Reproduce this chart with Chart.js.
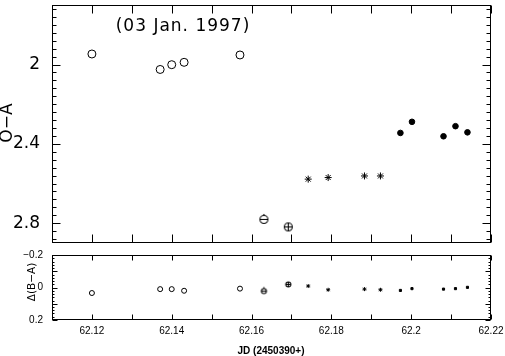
<!DOCTYPE html>
<html>
<head>
<meta charset="utf-8">
<script src="https://cdn.jsdelivr.net/npm/chart.js@4.4.1/dist/chart.umd.min.js"></script>
<style>
html,body{margin:0;padding:0;background:#fff;}
#wrap{position:relative;width:505px;height:356px;overflow:hidden;background:#fff;}
#caixaTopo{position:absolute;left:0;top:0;width:505px;height:248px;}
#caixaBase{position:absolute;left:0;top:250px;width:505px;height:106px;}
</style>
</head>
<body>
<div id="wrap">
    <div id="caixaTopo"><canvas id="graficoOA" width="505" height="248"></canvas></div>
    <div id="caixaBase"><canvas id="graficoDelta" width="505" height="106"></canvas></div>
</div>
<script>
// ==========================================================
// Dados (JD - 2450390, O-A e delta(B-A))
// ==========================================================

// circulos abertos
const jdAberto = [62.1200, 62.1371, 62.1400, 62.1431, 62.1571];
const oaAberto = [1.947, 2.025, 2.001, 1.989, 1.952];
const deltaAberto = [0.034, 0.010, 0.010, 0.020, 0.007];

// circulo com traco
const jdMenos = [62.1631];
const oaMenos = [2.781];
const deltaMenos = [0.022];

// circulo com cruz
const jdMais = [62.1692];
const oaMais = [2.819];
const deltaMais = [-0.019];

// asteriscos
const jdEstrela = [62.1742, 62.1792, 62.1883, 62.1923];
const oaEstrela = [2.578, 2.570, 2.562, 2.562];
const deltaEstrela = [-0.009, 0.014, 0.010, 0.014];

// pontos cheios
const jdCheio = [62.1973, 62.2002, 62.2081, 62.2111, 62.2141];
const oaCheio = [2.345, 2.289, 2.362, 2.311, 2.342];
const deltaCheio = [0.018, 0.007, 0.010, 0.007, -0.001];

// rotulos dos eixos
const xTicksJD = [62.12, 62.14, 62.16, 62.18, 62.20, 62.22];
const xRotulosJD = ["62.12", "62.14", "62.16", "62.18", "62.2", "62.22"];
const yTicksOA = [2.0, 2.4, 2.8];
const yRotulosOA = ["2", "2.4", "2.8"];
const yTicksDelta = [-0.2, 0, 0.2];
const yRotulosDelta = ["\u22120.2", "0", "0.2"];

// ==========================================================
// Marcas dos eixos (para dentro)
// ==========================================================

const marcasX = [];
for(let k = 6211; k <= 6222; k++) marcasX.push(k / 100);

const marcasOAmenor = [];
for(let k = 43; k <= 72; k++) marcasOAmenor.push(k * 0.04);

const marcasDeltaMenor = [];
for(let k = -10; k <= 10; k++) marcasDeltaMenor.push(k * 0.02);

// ==========================================================
// Marcadores especiais (circulo com traco / com cruz)
// ==========================================================

function criarMarcador(r, tipo){
    const c = document.createElement("canvas");
    const s = 2 * Math.ceil(r) + 5;
    c.width = s;
    c.height = s;
    const g = c.getContext("2d");
    const m = s / 2;
    g.strokeStyle = "#000";
    g.lineWidth = 1.1;
    g.beginPath();
    g.arc(m, m, r, 0, Math.PI * 2);
    g.stroke();
    g.beginPath();
    g.moveTo(m - r, m);
    g.lineTo(m + r, m);
    if(tipo === "mais"){
        g.moveTo(m, m - r);
        g.lineTo(m, m + r);
    } else {
        g.moveTo(m, m - r);
        g.lineTo(m, m - r - 1.5);
    }
    g.stroke();
    return c;
}

function pares(xs, ys){
    return xs.map((x, i) => ({x: x, y: ys[i]}));
}

// ==========================================================
// PLUGIN: moldura com marcas para dentro
// ==========================================================

const molduraPlugin = {

    id: "moldura",

    afterDraw(chart, args, opts){

        const {ctx, chartArea: a} = chart;
        const sx = chart.scales.x;
        const sy = chart.scales.y;

        const L = Math.round(a.left) + 0.5;
        const R = Math.round(a.right) - 0.5;
        const T = Math.round(a.top) + 0.5;
        const B = Math.round(a.bottom) - 0.5;

        ctx.save();
        ctx.strokeStyle = "#000";
        ctx.lineWidth = 1;
        ctx.strokeRect(L, T, R - L, B - T);

        ctx.beginPath();

        opts.xMarcas.forEach(v => {
            const x = Math.round(sx.getPixelForValue(v)) + 0.5;
            ctx.moveTo(x, B); ctx.lineTo(x, B - opts.xTam);
            ctx.moveTo(x, T); ctx.lineTo(x, T + opts.xTam);
        });

        opts.yMarcas.forEach(v => {
            const y = Math.round(sy.getPixelForValue(v)) + 0.5;
            const maior = Math.abs(v / opts.yPasso - Math.round(v / opts.yPasso)) < 1e-6;
            const t = maior ? opts.yTamMaior : opts.yTam;
            ctx.moveTo(L, y); ctx.lineTo(L + t, y);
            ctx.moveTo(R, y); ctx.lineTo(R - t, y);
        });

        ctx.stroke();
        ctx.restore();

    }

};

// ==========================================================
// PLUGIN: textos livres (titulos dos eixos, data)
// ==========================================================

const textosPlugin = {

    id: "textos",

    afterDraw(chart, args, opts){

        const {ctx} = chart;

        (opts.itens || []).forEach(t => {
            ctx.save();
            ctx.font = t.fonte;
            ctx.fillStyle = "#000";
            ctx.textAlign = "center";
            ctx.textBaseline = "middle";
            if(t.espaco) ctx.letterSpacing = t.espaco;
            ctx.translate(t.x, t.y);
            if(t.rot) ctx.rotate(t.rot);
            ctx.fillText(t.texto, 0, 0);
            ctx.restore();
        });

    }

};

Chart.register(molduraPlugin, textosPlugin);

// ==========================================================
// GRAFICO O-A
// ==========================================================

new Chart(document.getElementById("graficoOA"), {

    type: "scatter",

    data: {
        datasets: [
            {data: pares(jdAberto, oaAberto), pointStyle: "circle", pointRadius: 4, borderColor: "#000", backgroundColor: "#fff", borderWidth: 1},
            {data: pares(jdMenos, oaMenos), pointStyle: criarMarcador(4, "menos")},
            {data: pares(jdMais, oaMais), pointStyle: criarMarcador(4, "mais")},
            {data: pares(jdEstrela, oaEstrela), pointStyle: "star", pointRadius: 3.5, borderColor: "#000", borderWidth: 1},
            {data: pares(jdCheio, oaCheio), pointStyle: "circle", pointRadius: 2.8, borderColor: "#000", backgroundColor: "#000", borderWidth: 1}
        ]
    },

    options: {

        responsive: false,
        animation: false,

        layout: {padding: {top: 1, right: 14, bottom: 2, left: 0}},

        plugins: {
            legend: {display: false},
            tooltip: {enabled: false},
            moldura: {xMarcas: marcasX, xTam: 8, yMarcas: marcasOAmenor, yPasso: 0.4, yTam: 4, yTamMaior: 8},
            textos: {
                itens: [
                    {texto: "(03 Jan. 1997)", x: 183, y: 27, fonte: "17px 'DejaVu Sans'", espaco: "1px"},
                    {texto: "O\u2212A", x: 8, y: 123, fonte: "17px 'DejaVu Sans'", rot: -Math.PI / 2}
                ]
            }
        },

        scales: {

            x: {type: "linear", min: 62.11, max: 62.22, display: false},

            y: {
                type: "linear",
                min: 1.7,
                max: 2.9,
                reverse: true,
                grid: {display: false, drawTicks: false},
                border: {display: false},
                afterBuildTicks(s){ s.ticks = yTicksOA.map(v => ({value: v})); },
                afterFit(s){ s.width = 52; s.paddingTop = 0; s.paddingBottom = 0; },
                ticks: {
                    padding: 12,
                    color: "#000",
                    font: {family: "DejaVu Sans", size: 17},
                    callback: (v, i) => yRotulosOA[i]
                }
            }

        }

    }

});

// ==========================================================
// GRAFICO DELTA(B-A)
// ==========================================================

new Chart(document.getElementById("graficoDelta"), {

    type: "scatter",

    data: {
        datasets: [
            {data: pares(jdAberto, deltaAberto), pointStyle: "circle", pointRadius: 2.5, borderColor: "#000", backgroundColor: "#fff", borderWidth: 1},
            {data: pares(jdMenos, deltaMenos), pointStyle: criarMarcador(2.5, "menos")},
            {data: pares(jdMais, deltaMais), pointStyle: criarMarcador(2.5, "mais")},
            {data: pares(jdEstrela, deltaEstrela), pointStyle: "star", pointRadius: 2, borderColor: "#000", borderWidth: 1},
            {data: pares(jdCheio, deltaCheio), pointStyle: "rect", pointRadius: 1.5, borderColor: "#000", backgroundColor: "#000", borderWidth: 1}
        ]
    },

    options: {

        responsive: false,
        animation: false,

        layout: {padding: {top: 1, right: 14, bottom: 0, left: 0}},

        plugins: {
            legend: {display: false},
            tooltip: {enabled: false},
            moldura: {xMarcas: marcasX, xTam: 5, yMarcas: marcasDeltaMenor, yPasso: 0.1, yTam: 2, yTamMaior: 5},
            textos: {
                itens: [
                    {texto: "\u0394(B\u2212A)", x: 32, y: 32, fonte: "10.5px 'DejaVu Sans'", rot: -Math.PI / 2},
                    {texto: "JD (2450390+)", x: 271, y: 101, fonte: "bold 10px 'Liberation Sans'"}
                ]
            }
        },

        scales: {

            x: {
                type: "linear",
                min: 62.11,
                max: 62.22,
                grid: {display: false, drawTicks: false},
                border: {display: false},
                afterBuildTicks(s){ s.ticks = xTicksJD.map(v => ({value: v})); },
                afterFit(s){ s.height = 36; s.paddingLeft = 0; s.paddingRight = 0; },
                ticks: {
                    padding: 5,
                    color: "#000",
                    autoSkip: false,
                    maxRotation: 0,
                    font: {family: "Liberation Sans", size: 10},
                    callback: (v, i) => xRotulosJD[i]
                }
            },

            y: {
                type: "linear",
                min: -0.2,
                max: 0.2,
                reverse: true,
                grid: {display: false, drawTicks: false},
                border: {display: false},
                afterBuildTicks(s){ s.ticks = yTicksDelta.map(v => ({value: v})); },
                afterFit(s){ s.width = 52; s.paddingTop = 0; s.paddingBottom = 0; },
                ticks: {
                    padding: 9,
                    color: "#000",
                    font: {family: "Liberation Sans", size: 10},
                    callback: (v, i) => yRotulosDelta[i]
                }
            }

        }

    }

});
</script>
</body>
</html>
